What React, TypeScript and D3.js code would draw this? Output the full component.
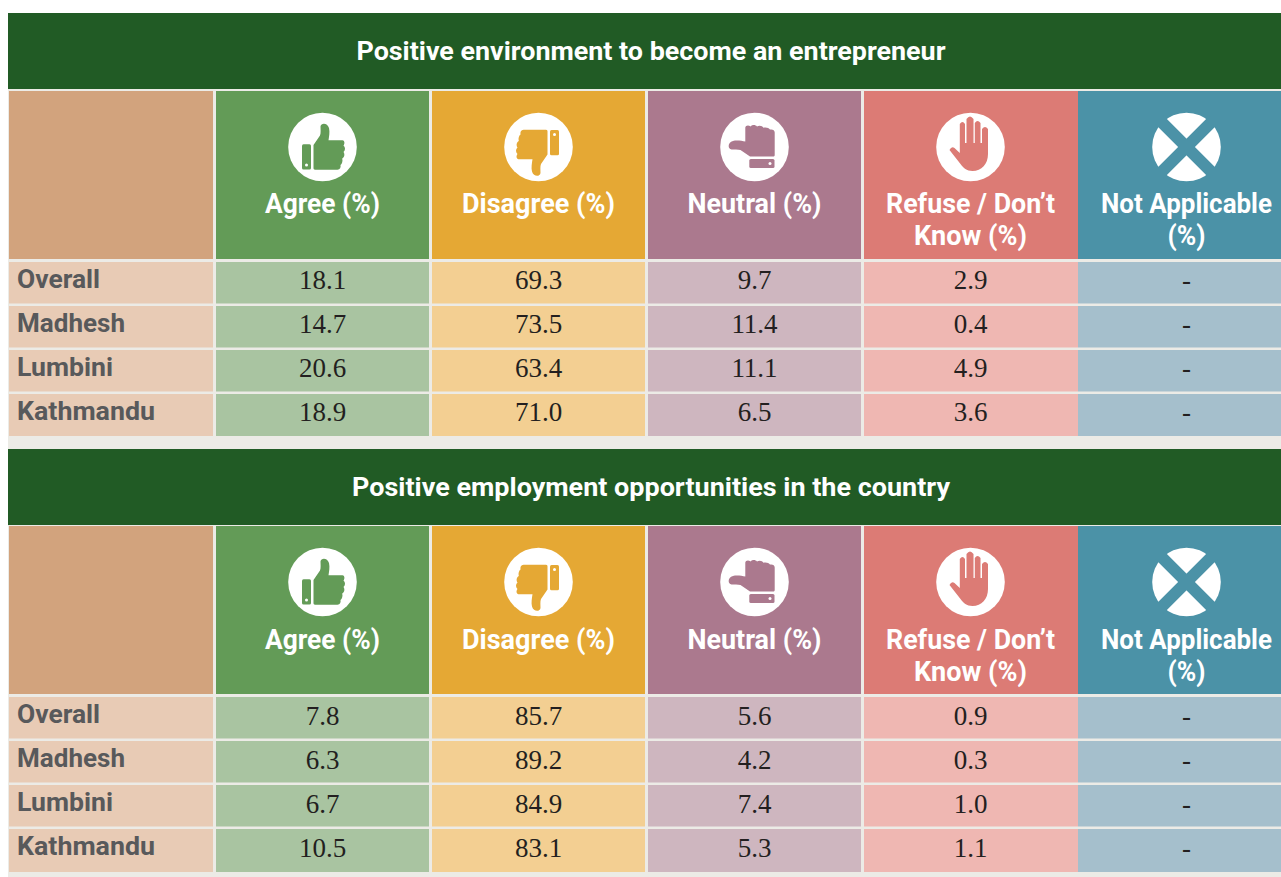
import React from "react";
import * as d3 from "d3";

const columns = ["Agree", "Disagree", "Neutral", "Refuse", "NotApplicable"];
const regions = ["Overall", "Madhesh", "Lumbini", "Kathmandu"];

const headerLines = [
  ["Agree (%)"],
  ["Disagree (%)"],
  ["Neutral (%)"],
  ["Refuse / Don’t", "Know (%)"],
  ["Not Applicable", "(%)"],
];

const entrepreneurTitle = "Positive environment to become an entrepreneur";
const entrepreneurAgree = ["18.1", "14.7", "20.6", "18.9"];
const entrepreneurDisagree = ["69.3", "73.5", "63.4", "71.0"];
const entrepreneurNeutral = ["9.7", "11.4", "11.1", "6.5"];
const entrepreneurRefuse = ["2.9", "0.4", "4.9", "3.6"];
const entrepreneurNA = ["-", "-", "-", "-"];

const employmentTitle = "Positive employment opportunities in the country";
const employmentAgree = ["7.8", "6.3", "6.7", "10.5"];
const employmentDisagree = ["85.7", "89.2", "84.9", "83.1"];
const employmentNeutral = ["5.6", "4.2", "7.4", "5.3"];
const employmentRefuse = ["0.9", "0.3", "1.0", "1.1"];
const employmentNA = ["-", "-", "-", "-"];

const darkColors = ["#639b57", "#e5a834", "#ab798e", "#dc7b75", "#4b92a7"];
const lightColors = ["#a9c4a1", "#f3cf92", "#ceb6bf", "#efb7b2", "#a5bfcc"];

// measured text widths, the DIN-like face of the original isn't installed
const textWidths: Record<string, number> = {
  "Agree (%)": 115,
  "Disagree (%)": 153,
  "Neutral (%)": 134,
  "Refuse / Don’t": 169,
  "Know (%)": 113,
  "Not Applicable": 171,
  "(%)": 38,
  Overall: 83,
  Madhesh: 108,
  Lumbini: 96,
  Kathmandu: 138,
  [entrepreneurTitle]: 589,
  [employmentTitle]: 598,
};

const width = 1281;
const height = 877;
const labelFont = "Roboto, 'Noto Sans', sans-serif";

const x = d3.scaleBand().domain(columns).range([216, 1293]).paddingInner(3 / 216);
const y = d3.scaleBand().domain(regions).range([262, 435.5]).paddingInner(2.5 / 44);

const thumbHand =
  "M-9,-2 L-2.5,-11.5 C-1.5,-14 -2,-18 -2,-20.5 C-1.5,-24.5 5,-24.5 6.5,-19 C7.5,-15 6.5,-10 6,-6.7 L20,-6.7 C22,-6.5 22.7,-3.5 21,-1.5 C23,0 23,3.5 21,5 C22.5,7 22,10.5 19.7,11.5 C20.5,14 19.5,17 18,18 C18.5,20.5 17.5,22.7 15,22.7 L-7.5,22.7 C-8.5,22.7 -9,22 -9,21 Z";

const stopHand =
  "M-21,3 Q-19,-1 -16,1 L-10.7,6 L-10.7,-23 Q-8,-27 -5.5,-23 L-5.5,-4 L-4,-4 L-4,-28 Q-0.5,-33 3,-28 L3,-4 L4.3,-4 L4.3,-24 Q7,-28 10,-24 L10,-4 L11.5,-4 L11.5,-18 Q14.5,-22 17.5,-18 L17.5,7 C17.5,17 11,24 2,24 C-4,24 -7,21 -10,17 Z";

const Thumb = ({ color, transform }: { color: string; transform: string }) => (
  <g transform={transform}>
    <path d={thumbHand} fill={color} />
    <rect x={-20.5} y={-2.7} width={9} height={25.2} rx={1.5} fill={color} />
    <circle cx={-16} cy={18} r={1.5} fill="#fff" />
  </g>
);

const Icon = ({ index, cx, cy }: { index: number; cx: number; cy: number }) => {
  const color = darkColors[index];
  return (
    <g transform={`translate(${cx},${cy})`}>
      <circle r={34.3} fill="#fff" />
      {index === 0 && <Thumb color={color} transform="" />}
      {index === 1 && <Thumb color={color} transform="translate(0,5.5) rotate(180)" />}
      {index === 2 && <Thumb color={color} transform="translate(-2.5,0.5) rotate(-90)" />}
      {index === 3 && <path d={stopHand} fill={color} />}
      {index === 4 && (
        <g stroke={color} strokeWidth={11.7}>
          <line x1={-27} y1={-27} x2={27} y2={27} />
          <line x1={-27} y1={27} x2={27} y2={-27} />
        </g>
      )}
    </g>
  );
};

const Label = ({ text, ...rest }: any) => (
  <text
    fontFamily={labelFont}
    fontWeight={700}
    textLength={textWidths[text]}
    lengthAdjust="spacingAndGlyphs"
    {...rest}
  >
    {text}
  </text>
);

const Table = ({
  title,
  values,
  shift,
  titleShift,
  textShift,
}: {
  title: string;
  values: string[][];
  shift: number;
  titleShift: number;
  textShift: number;
}) => {
  // last row runs a bit taller than the band
  const rowHeight = (j: number) => y.bandwidth() + (j === regions.length - 1 ? textShift + 0.5 : 0);
  return (
    <g>
      <g transform={`translate(0,${titleShift})`}>
        <rect x={8} y={13} width={width - 8} height={76} fill="#215b25" />
        <Label text={title} x={651} y={60} fontSize={25} fill="#fff" textAnchor="middle" />
      </g>
      <g transform={`translate(0,${shift})`}>
        <rect x={9} y={91} width={204} height={168} fill="#d2a37d" />
        {regions.map((r, j) => (
          <g key={r}>
            <rect x={9} y={y(r)} width={204} height={rowHeight(j)} fill="#e8cbb5" />
            <Label text={r} x={17} y={y(r)! + 26} fontSize={26} fill="#58595b" />
          </g>
        ))}
        {columns.map((c, i) => {
          // the last two columns touch, no gap between them
          const left = x(c)! - (i === 4 ? 2 : 0);
          const w = x.bandwidth() + (i === 3 ? 1 : i === 4 ? 2 : 0);
          const mid = x(c)! + x.bandwidth() / 2;
          return (
            <g key={c}>
              <rect x={left} y={91} width={w} height={168} fill={darkColors[i]} />
              <Icon index={i} cx={mid} cy={147} />
              {headerLines[i].map((line, k) => (
                <Label
                  key={line}
                  text={line}
                  x={mid}
                  y={213 + textShift + k * 32}
                  fontSize={27}
                  fill="#fff"
                  textAnchor="middle"
                />
              ))}
              {regions.map((r, j) => (
                <g key={r}>
                  <rect x={left} y={y(r)} width={w} height={rowHeight(j)} fill={lightColors[i]} />
                  <text
                    x={mid}
                    y={y(r)! + 27 + textShift}
                    fontFamily="'Liberation Serif', serif"
                    fontSize={27}
                    fill="#231f20"
                    textAnchor="middle"
                  >
                    {values[i][j]}
                  </text>
                </g>
              ))}
            </g>
          );
        })}
      </g>
    </g>
  );
};

export default function App() {
  return (
    <svg
      width={width}
      height={height}
      viewBox={`0 0 ${width} ${height}`}
      style={{ position: "absolute", left: 0, top: 0, display: "block", background: "#fff" }}
    >
      <rect x={8} y={89} width={width - 8} height={height - 89} fill="#ecebe6" />
      <Table
        title={entrepreneurTitle}
        shift={0}
        titleShift={0}
        textShift={0}
        values={[entrepreneurAgree, entrepreneurDisagree, entrepreneurNeutral, entrepreneurRefuse, entrepreneurNA]}
      />
      <Table
        title={employmentTitle}
        shift={435}
        titleShift={436}
        textShift={1}
        values={[employmentAgree, employmentDisagree, employmentNeutral, employmentRefuse, employmentNA]}
      />
    </svg>
  );
}
